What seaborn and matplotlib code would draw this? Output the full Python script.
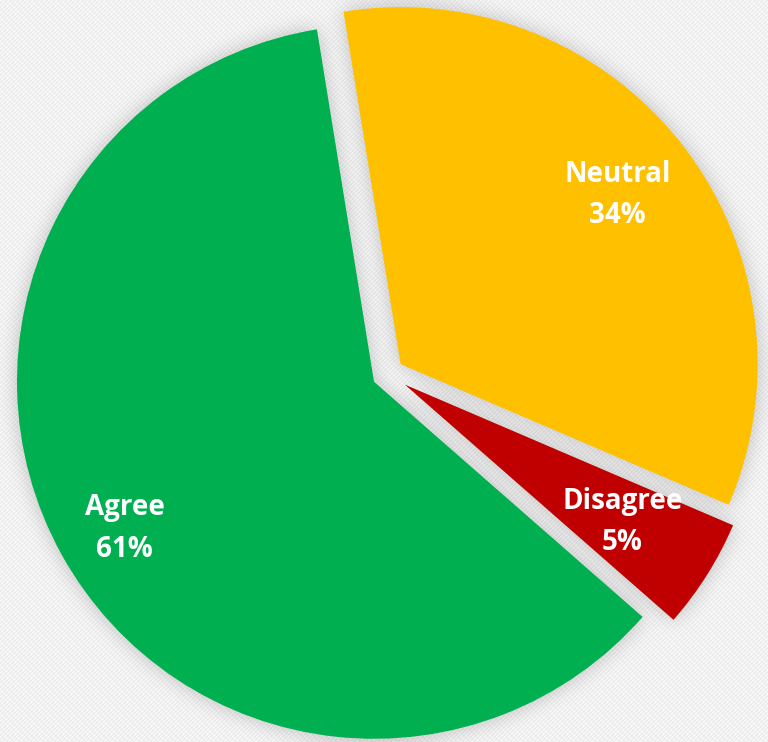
import numpy as np
import matplotlib
matplotlib.use("Agg")
import matplotlib.pyplot as plt
import seaborn as sns

labels = ["Neutral", "Disagree", "Agree"]
values = [34, 5, 61]
colors = ["#FFC000", "#C00000", "#00B050"]
label_dist = [0.77, 0.72, 0.81]

W, H = 768, 742


def box_blur(a, r):
    for axis in (0, 1):
        pad = [(0, 0), (0, 0)]
        pad[axis] = (r + 1, r)
        p = np.pad(a, pad, mode="edge")
        c = np.cumsum(p, axis=axis)
        if axis == 0:
            a = (c[2 * r + 1:] - c[:-2 * r - 1]) / (2 * r + 1)
        else:
            a = (c[:, 2 * r + 1:] - c[:, :-2 * r - 1]) / (2 * r + 1)
    return a


sns.set_style("white")
plt.rcParams["font.family"] = ["Open Sans", "DejaVu Sans"]

fig = plt.figure(figsize=(W / 100, H / 100), dpi=100)
ax = fig.add_axes([0, 0, 1, 1])

# explode is in data units here (radius is in pixels)
wedges, texts, autotexts = ax.pie(
    values, colors=colors, startangle=99.2, counterclock=False,
    explode=[16, 20, 16], center=(388, 368), radius=357,
    autopct=lambda p: f"{p:.0f}%", pctdistance=0.77,
    wedgeprops=dict(linewidth=0, zorder=2),
    textprops=dict(color="white", fontsize=20, fontweight="bold"),
)

for w, at, lab, d in zip(wedges, autotexts, labels, label_dist):
    mid = np.deg2rad((w.theta1 + w.theta2) / 2 + (1.5 if lab == "Agree" else 0))
    cx, cy = w.center
    at.set_position((cx + d * w.r * np.cos(mid), cy + d * w.r * np.sin(mid)))
    at.set_text(f"{lab}\n{at.get_text()}")
    at.set_linespacing(1.55)
    at.set_zorder(3)

# light carbon-like background with a soft shadow around the slices
yy, xx = np.mgrid[0:H, 0:W]
tex = 0.975 - 0.04 * (((xx + yy) // 2) % 2) - 0.02 * (((xx - yy) // 3) % 2)
px = xx + 0.5
py = H - yy - 0.5
mask = np.zeros((H, W))
for w in wedges:
    cx, cy = w.center
    r = np.hypot(px - cx, py - cy)
    ang = np.degrees(np.arctan2(py - cy, px - cx))
    inside = (r <= w.r) & (((ang - w.theta1) % 360) <= (w.theta2 - w.theta1))
    mask[inside] = 1.0
shade = box_blur(box_blur(box_blur(mask, 9), 9), 9)
bg = tex * (1 - 0.22 * shade)
ax.imshow(bg, cmap="gray", vmin=0, vmax=1, extent=(0, W, 0, H),
          interpolation="nearest", zorder=0)

ax.set_xlim(0, W)
ax.set_ylim(0, H)
ax.set_aspect("equal")
ax.axis("off")
fig.savefig("out.png", dpi=100)
